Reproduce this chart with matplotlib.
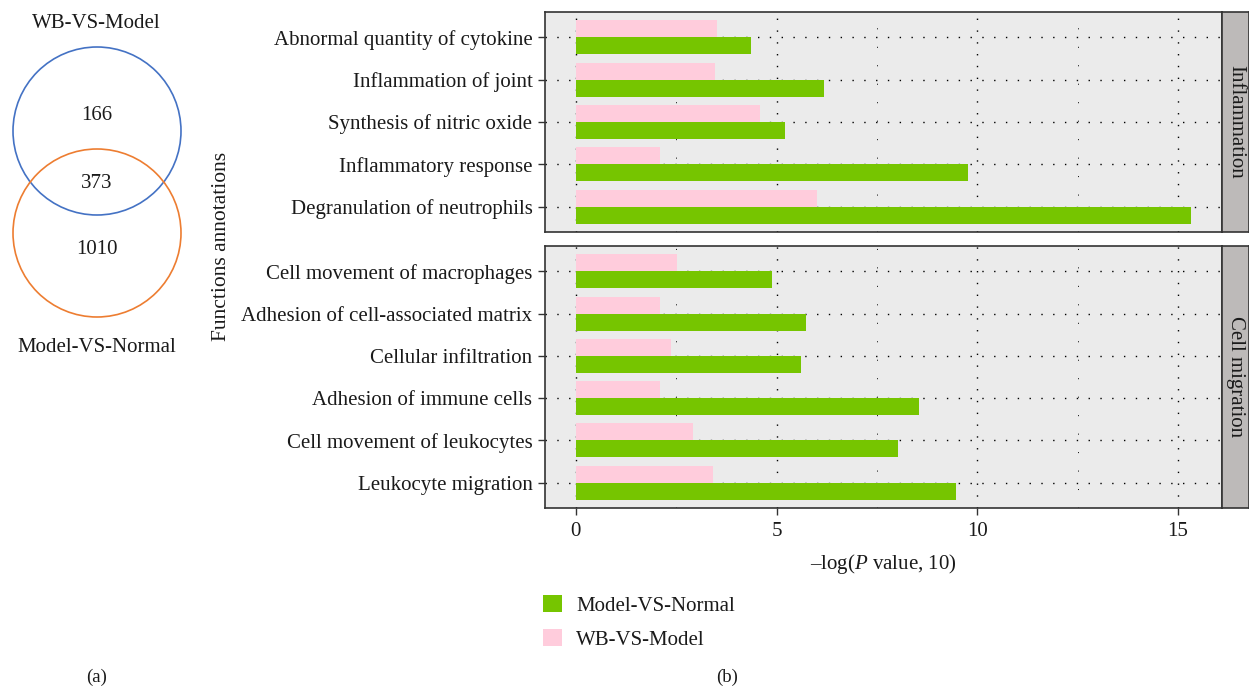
import matplotlib
matplotlib.use("Agg")
import matplotlib.pyplot as plt
from matplotlib.patches import Circle, Patch
from matplotlib.ticker import MultipleLocator
import numpy as np

plt.rcParams["font.family"] = ["Liberation Serif", "DejaVu Serif"]
plt.rcParams["mathtext.fontset"] = "custom"
plt.rcParams["mathtext.rm"] = "Liberation Serif"
plt.rcParams["mathtext.it"] = "Liberation Serif:italic"

# ---- data -------------------------------------------------------------
venn_labels = ["WB-VS-Model", "Model-VS-Normal"]
venn_wb_only = 166
venn_shared = 373
venn_model_only = 1010

series_names = ["Model-VS-Normal", "WB-VS-Model"]

inflammation_terms = [
    "Abnormal quantity of cytokine",
    "Inflammation of joint",
    "Synthesis of nitric oxide",
    "Inflammatory response",
    "Degranulation of neutrophils",
]
inflammation_model_vs_normal = [4.36, 6.19, 5.20, 9.76, 15.33]
inflammation_wb_vs_model = [3.51, 3.46, 4.59, 2.10, 6.00]

migration_terms = [
    "Cell movement of macrophages",
    "Adhesion of cell-associated matrix",
    "Cellular infiltration",
    "Adhesion of immune cells",
    "Cell movement of leukocytes",
    "Leukocyte migration",
]
migration_model_vs_normal = [4.88, 5.74, 5.62, 8.56, 8.03, 9.48]
migration_wb_vs_model = [2.51, 2.10, 2.36, 2.10, 2.91, 3.41]

facet_names = ["Inflammation", "Cell migration"]
x_ticks = [0, 5, 10, 15]

# ---- style ------------------------------------------------------------
GREEN = "#76C500"
PINK = "#FFCCDC"
PANEL_BG = "#EBEBEB"
STRIP_BG = "#BDBAB9"
BORDER = "#333333"
TXT = "#1A1A1A"
FS = 15

W, H = 1249, 688
fig = plt.figure(figsize=(W / 100, H / 100), dpi=100)


def frac_box(x0, y0, x1, y1):
    """Pixel box (top-left origin) -> figure fraction rect."""
    return [x0 / W, 1 - y1 / H, (x1 - x0) / W, (y1 - y0) / H]


# ---- (a) Venn diagram -------------------------------------------------
ax_v = fig.add_axes([0, 0, 1, 1], zorder=0)
ax_v.set_xlim(0, W)
ax_v.set_ylim(H, 0)
ax_v.set_aspect("equal")
ax_v.axis("off")
ax_v.add_patch(Circle((97, 131), 84, fill=False, ec="#4472C4", lw=1.2))
ax_v.add_patch(Circle((97, 233), 84, fill=False, ec="#ED7D31", lw=1.2))
ax_v.text(96, 24, venn_labels[0], ha="center", va="center", fontsize=FS, color=TXT)
ax_v.text(97, 348, venn_labels[1], ha="center", va="center", fontsize=FS, color=TXT)
ax_v.text(97, 115, str(venn_wb_only), ha="center", va="center", fontsize=FS, color=TXT)
ax_v.text(97, 183, str(venn_shared), ha="center", va="center", fontsize=FS, color=TXT)
ax_v.text(97, 250, str(venn_model_only), ha="center", va="center", fontsize=FS, color=TXT)
ax_v.text(97, 677, "(a)", ha="center", va="center", fontsize=13.5, color=TXT)
ax_v.text(727, 677, "(b)", ha="center", va="center", fontsize=13.5, color=TXT)

# ---- (b) faceted bar chart --------------------------------------------
xmax = max(inflammation_model_vs_normal + migration_model_vs_normal)
xlim = (-0.05 * xmax, 1.05 * xmax)

facets = [
    (inflammation_terms, inflammation_model_vs_normal, inflammation_wb_vs_model,
     frac_box(545, 12, 1222, 232), frac_box(1222, 12, 1249, 232)),
    (migration_terms, migration_model_vs_normal, migration_wb_vs_model,
     frac_box(545, 246, 1222, 508), frac_box(1222, 246, 1249, 508)),
]

bar_h = 0.4
for i, (terms, green_vals, pink_vals, rect, srect) in enumerate(facets):
    ax = fig.add_axes(rect, zorder=2)
    n = len(terms)
    ypos = np.arange(n)[::-1]  # first term at top
    ax.set_facecolor(PANEL_BG)
    ax.barh(ypos - bar_h / 2, green_vals, height=bar_h, color=GREEN, zorder=3)
    ax.barh(ypos + bar_h / 2, pink_vals, height=bar_h, color=PINK, zorder=3)
    ax.set_xlim(*xlim)
    ax.set_ylim(-0.6, n - 0.4)
    ax.set_yticks(ypos)
    ax.set_yticklabels(terms, fontsize=FS, color=TXT)
    ax.xaxis.set_major_locator(MultipleLocator(5))
    ax.xaxis.set_minor_locator(MultipleLocator(2.5))
    ax.grid(True, which="major", axis="both", color="black",
            linestyle=(0, (1, 7.5)), linewidth=1.0, zorder=1)
    ax.grid(True, which="minor", axis="x", color="black",
            linestyle=(0, (1, 18)), linewidth=0.7, zorder=1)
    ax.set_axisbelow(True)
    for sp in ax.spines.values():
        sp.set_color(BORDER)
        sp.set_linewidth(1.2)
    ax.tick_params(axis="y", length=5, width=1, color=BORDER, pad=4)
    ax.tick_params(axis="x", which="minor", length=0)
    if i == 0:
        ax.tick_params(axis="x", which="major", length=0, labelbottom=False)
    else:
        ax.set_xticks(x_ticks)
        ax.set_xticklabels([str(t) for t in x_ticks], fontsize=FS, color=TXT)
        ax.tick_params(axis="x", which="major", length=5, width=1, color=BORDER, pad=5)
        ax.set_xlabel(r"–log($\mathit{P}$ value, 10)", fontsize=FS, color=TXT, labelpad=8)

    # facet strip
    sax = fig.add_axes(srect, zorder=2)
    sax.set_facecolor(STRIP_BG)
    sax.set_xticks([])
    sax.set_yticks([])
    for sp in sax.spines.values():
        sp.set_color(BORDER)
        sp.set_linewidth(1.2)
    sax.text(0.5, 0.5, facet_names[i], rotation=-90, ha="center", va="center",
             fontsize=FS, color=TXT, transform=sax.transAxes)

fig.text(222 / W, 1 - 246 / H, "Functions annotations", rotation=90,
         ha="center", va="center", fontsize=15.5, color=TXT)

handles = [Patch(facecolor=GREEN, edgecolor="none"), Patch(facecolor=PINK, edgecolor="none")]
fig.legend(handles, series_names, loc="upper left", bbox_to_anchor=(543 / W, 1 - 595 / H),
           frameon=False, fontsize=FS, handlelength=0.9, handleheight=0.9,
           handletextpad=0.7, labelspacing=0.62, borderpad=0, borderaxespad=0,
           labelcolor=TXT)

fig.savefig("out.png", dpi=100)
